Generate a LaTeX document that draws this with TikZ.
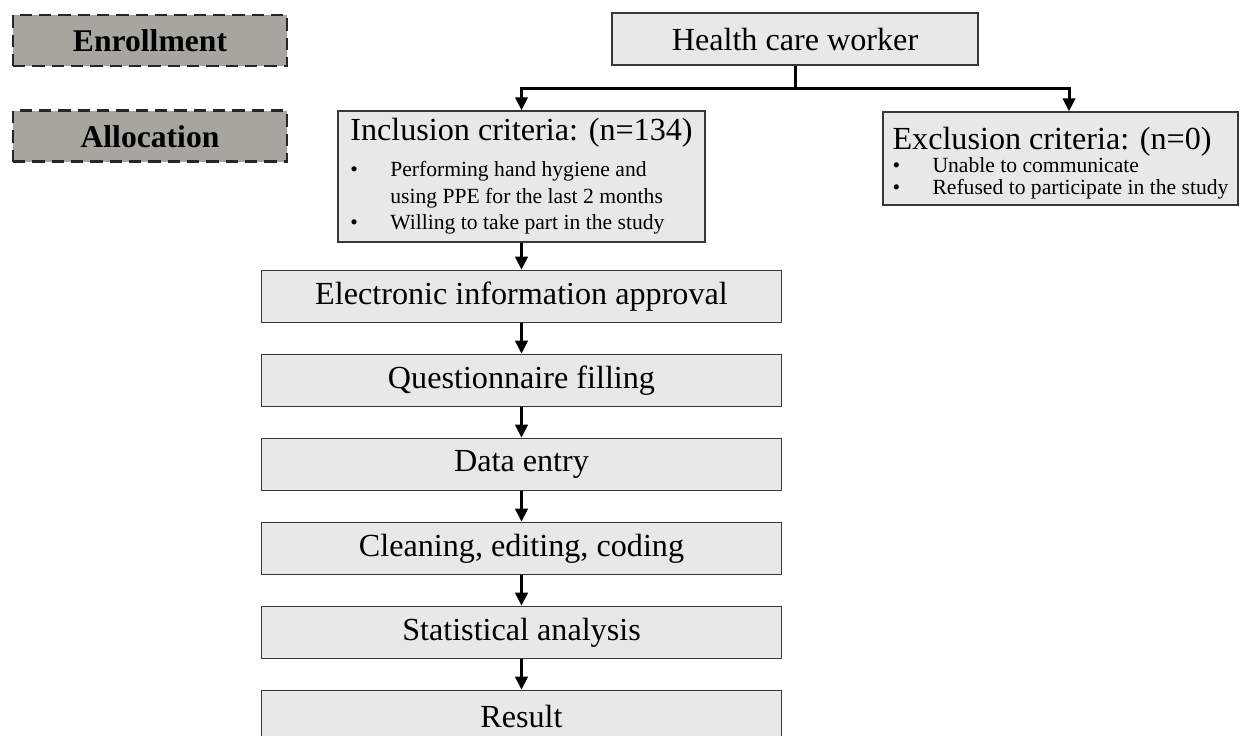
\documentclass[tikz,border=0pt]{standalone}
\usepackage{fontspec}
\setmainfont{Liberation Serif}
\usetikzlibrary{
    arrows.meta,
    positioning,
    calc,
}

\definecolor{boxgray}{RGB}{232,232,232}
\definecolor{taggray}{RGB}{166,166,158}
\definecolor{edgegray}{RGB}{55,55,55}

\newcommand{\crittitle}{\fontsize{18.3}{22}\selectfont}
\newcommand{\critem}{\makebox[0.8cm][l]{\textbullet}}

\begin{document}
\begin{tikzpicture}[
    node distance= 0.612cm and 1cm,
    stage/.style={draw=edgegray, line width=0.8pt, fill=boxgray, align=center,
                minimum width=10.4cm, minimum height=1.04cm, inner sep=0pt,
                font=\fontsize{18.3}{22}\selectfont},
    criteria/.style={draw=edgegray, line width=0.8pt, fill=boxgray, align=left,
                inner sep=0pt, font=\fontsize{12.3}{15.2}\selectfont},
    phase/.style={draw=black!85, line width=1.6pt, dash pattern=on 7pt off 4pt,
                fill=taggray, minimum width=5.48cm, minimum height=1.02cm,
                font=\bfseries\fontsize{18}{22}\selectfont},
    flow/.style={-{Triangle[length=7.4pt,width=7pt]}, line width=1.7pt},
]
\useasboundingbox (0,0) rectangle (24.82,-14.72);

% Phases
\node[phase] at (3.0,-0.81) (Enrollment) {Enrollment};
\node[phase] (Allocation) [below=0.84cm of Enrollment] {Allocation};

% Health care worker
\node[stage, minimum width=7.32cm, minimum height=1.04cm] at (15.9,-0.78) (Worker) {Health care worker};

% Inclusion criteria
\node[criteria, minimum width=7.34cm, minimum height=2.62cm] at (10.43,-3.53) (Inclusion)
    {{\crittitle Inclusion criteria: (n=134)}\\[5pt]
     \critem Performing hand hygiene and\\
     \hspace*{0.8cm}using PPE for the last 2 months\\
     \critem Willing to take part in the study};

% Exclusion criteria
\node[criteria, font=\fontsize{12.3}{12.5}\selectfont, minimum width=7.1cm, minimum height=1.86cm]
    at (21.21,-3.17) (Exclusion)
    {{\crittitle\rule{0pt}{18pt}Exclusion criteria: (n=0)}\\[1.1pt]
     \critem Unable to communicate\\
     \critem Refused to participate in the study};

% Steps
\node[stage] (Approval) [below=0.54cm of Inclusion] {Electronic information approval};
\node[stage] (Questionnaire) [below=of Approval] {Questionnaire filling};
\node[stage] (Entry) [below=of Questionnaire] {Data entry};
\node[stage] (Cleaning) [below=of Entry] {Cleaning, editing, coding};
\node[stage] (Analysis) [below=of Cleaning] {Statistical analysis};
\node[stage] (Result) [below=of Analysis] {Result};

% Lines
\coordinate (Split) at ($(Worker.south)+(0,-0.46)$);
\draw[line width=1.7pt] (Worker.south) -- (Split);
\draw[flow] (Split) -| (Inclusion.north);
\draw[flow] (Split) -| ($(Exclusion.north)+(0.17,0)$);
\draw[flow] (Inclusion) -- (Approval);
\draw[flow] (Approval) -- (Questionnaire);
\draw[flow] (Questionnaire) -- (Entry);
\draw[flow] (Entry) -- (Cleaning);
\draw[flow] (Cleaning) -- (Analysis);
\draw[flow] (Analysis) -- (Result);

\end{tikzpicture}
\end{document}
